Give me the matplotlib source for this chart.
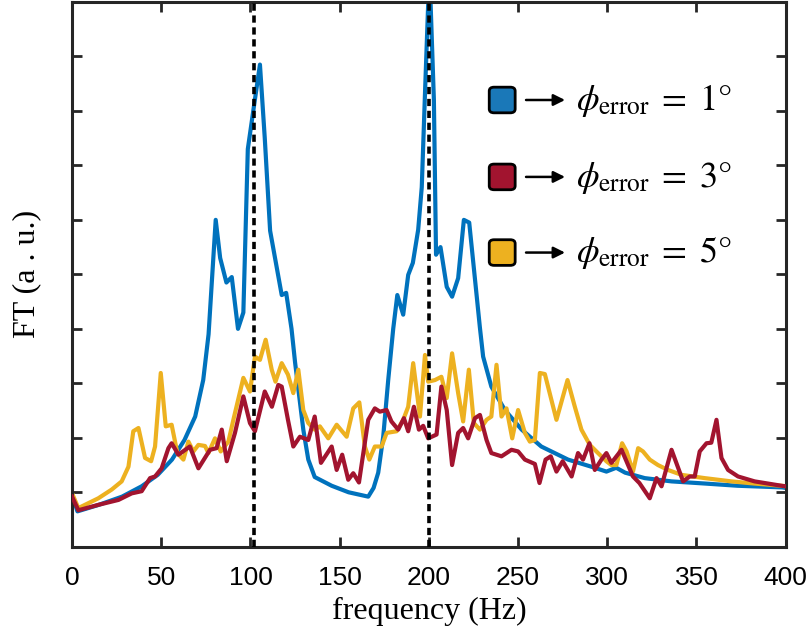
import matplotlib
matplotlib.use("Agg")
import matplotlib.pyplot as plt
from matplotlib.patches import FancyBboxPatch

plt.rcParams['mathtext.fontset'] = 'stix'

# phi_error = 1 deg (blue)
f_blue = [0, 3, 15, 28, 39, 48, 56, 63, 69, 73.5, 76.5, 80.5, 83, 86.5, 89.5, 93, 96,
          98.5, 102, 105.3, 108, 111, 117.5, 120, 123, 125, 129.6, 132.4, 136, 145.5,
          155, 166, 169, 171.6, 174.4, 177.2, 180, 182.3, 185.6, 188.4, 191, 194, 196,
          198, 200.3, 202.8, 204, 206.5, 210, 213, 216.4, 219.6, 222.6, 228.6, 230.4,
          235, 242.6, 252, 263, 278, 291, 299.5, 305, 310, 321, 336, 355, 373, 398, 400]
y_blue = [0.95, 0.65, 0.77, 0.92, 1.11, 1.32, 1.6, 1.96, 2.39, 3.06, 3.9, 6.0, 5.3, 4.85,
          4.95, 4.0, 4.3, 7.3, 8.1, 8.85, 7.5, 5.8, 4.62, 4.66, 4.0, 3.38, 2.15, 1.6, 1.28,
          1.12, 1.0, 0.92, 1.08, 1.36, 2.02, 3.06, 4.0, 4.62, 4.26, 4.99, 5.21, 5.82, 6.6,
          8.5, 10.6, 8.2, 5.36, 5.5, 4.77, 4.59, 4.93, 6.0, 5.95, 4.02, 3.49, 2.94, 2.51,
          2.15, 1.84, 1.6, 1.47, 1.38, 1.45, 1.36, 1.26, 1.2, 1.16, 1.12, 1.09, 1.08]

# phi_error = 3 deg (red)
f_red = [0, 3.5, 14.8, 26, 33.4, 39, 43.7, 46.5, 50.2, 54, 55.8, 59.6, 66, 70.8, 77.3,
         81, 83.9, 86.7, 91.3, 96, 99.7, 102.5, 108, 112, 115.6, 117.5, 121, 124, 127.7,
         132.4, 136, 139.5, 145.5, 148.3, 151.4, 154.8, 157.6, 160.8, 166, 169.7, 172.5,
         176.3, 179, 182.8, 186, 188.4, 191.6, 194.4, 196.8, 199.6, 204.3, 207, 210, 213,
         216.4, 219.2, 222, 225.8, 228.6, 232.3, 235, 240.7, 246.3, 250, 253.8, 259.4,
         262, 265.4, 268.3, 271.5, 275, 280, 283.6, 286.4, 290, 293, 296.7, 299.5, 302.3,
         308, 314.4, 318, 323.8, 327.6, 330.4, 336, 342.5, 346.2, 349, 351.8, 355.6,
         358.3, 361.2, 364, 367.7, 373.3, 382.6, 397.6, 400]
y_red = [0.92, 0.67, 0.77, 0.86, 0.98, 1.02, 1.26, 1.29, 1.44, 1.81, 1.9, 1.69, 1.84,
         1.44, 1.78, 1.81, 2.15, 1.57, 2.09, 2.76, 2.27, 2.12, 2.85, 2.57, 2.97, 2.94,
         2.33, 1.84, 2.02, 1.96, 2.39, 1.54, 1.84, 1.41, 1.69, 1.23, 1.35, 1.18, 2.33,
         2.54, 2.48, 2.51, 2.3, 2.15, 2.36, 2.12, 2.57, 2.15, 2.22, 1.99, 2.06, 2.94,
         2.51, 1.5, 2.09, 2.18, 1.99, 2.36, 2.42, 1.96, 1.72, 1.66, 1.78, 1.75, 1.6,
         1.52, 1.17, 1.6, 1.66, 1.38, 1.57, 1.29, 1.72, 1.6, 1.9, 1.41, 1.6, 1.72, 1.54,
         1.78, 1.29, 1.17, 0.89, 1.26, 1.11, 1.78, 1.2, 1.29, 1.29, 1.75, 1.9, 1.91,
         2.33, 1.63, 1.41, 1.29, 1.2, 1.12, 1.11]

# phi_error = 5 deg (yellow)
f_yel = [0, 3.5, 14.7, 22.2, 27.8, 31.6, 34.3, 37.2, 40.9, 44.3, 46.5, 49.7, 52.5, 55.8,
         59, 62.4, 65.2, 68, 70.8, 74.5, 76.4, 80.1, 83.3, 87.6, 90.4, 96, 99.7, 102.5,
         105.3, 108.5, 111.9, 114, 117.5, 121, 124, 126.8, 129.6, 132.4, 136, 138.9,
         143.6, 148.3, 153.9, 157.6, 161, 164.1, 166.6, 169.7, 173.5, 176.3, 181.9, 185.6,
         188.4, 191.2, 195, 197.8, 199.6, 203.4, 207, 210, 213, 216.4, 219.2, 222.4,
         225.2, 228.6, 232.3, 235, 237.9, 240.7, 243.5, 246.7, 250, 253.8, 256.6, 259.4,
         262.2, 265, 271.5, 277.7, 281.8, 285.5, 290.2, 294.8, 299.5, 302.3, 305.1, 308.3,
         310.8, 314.4, 317.3, 320, 323.8, 328.4, 334, 341.6, 354.6, 369.6, 382.6, 397.6, 400]
y_yel = [0.98, 0.71, 0.89, 1.05, 1.2, 1.47, 2.12, 2.18, 1.63, 1.57, 1.84, 3.19, 2.21,
         2.24, 1.72, 1.6, 1.93, 1.75, 1.87, 1.85, 1.72, 1.99, 1.75, 1.93, 2.33, 3.1, 2.85,
         3.49, 3.43, 3.8, 3.25, 3.03, 3.37, 3.16, 2.82, 3.25, 2.51, 2.27, 2.15, 2.21, 1.99,
         2.24, 2.02, 2.54, 2.65, 1.84, 1.6, 1.84, 1.84, 2.09, 2.12, 2.33, 2.57, 3.37, 2.39,
         3.52, 3.03, 3.06, 3.12, 2.73, 3.55, 2.82, 2.3, 3.25, 2.27, 2.15, 2.33, 2.39, 3.34,
         2.39, 2.54, 1.99, 2.51, 2.09, 1.93, 1.96, 3.19, 3.17, 2.33, 3.06, 2.57, 2.15, 1.87,
         1.72, 1.57, 1.5, 1.5, 1.9, 1.75, 1.38, 1.81, 1.75, 1.6, 1.5, 1.41, 1.32, 1.26, 1.2,
         1.16, 1.12, 1.11]

labels = ['1', '3', '5']
colors = ['#0072BD', '#A2142F', '#EDB120']
box_colors = ['#1A78B8', '#A2142F', '#EDB120']
marker_freqs = [102, 200]
xticks = [0, 50, 100, 150, 200, 250, 300, 350, 400]

fig = plt.figure(figsize=(8.1, 6.41), dpi=100)
ax = fig.add_axes([0.089, 0.147, 0.881, 0.85])

ax.plot(f_blue, y_blue, color=colors[0], lw=3.0, zorder=2)
ax.plot(f_yel, y_yel, color=colors[2], lw=3.0, zorder=2.5)
ax.plot(f_red, y_red, color=colors[1], lw=3.0, zorder=3)

for xv in marker_freqs:
    ax.axvline(xv, color='black', lw=2.6, ls=(0, (2.0, 1.3)), zorder=4)

ax.set_xlim(0, 400)
ax.set_ylim(0, 10)
ax.set_xticks(xticks)
ax.set_yticks(range(1, 10))
ax.set_yticklabels([])
ax.tick_params(direction='in', length=7, width=2, color='#262626', top=True, right=True,
               pad=14)
for lab in ax.get_xticklabels():
    lab.set_family('Liberation Sans')
    lab.set_fontsize(19)
for s in ax.spines.values():
    s.set_linewidth(2.2)
    s.set_color('#262626')

ax.set_xlabel('frequency (Hz)', family='Liberation Serif', fontsize=23, labelpad=5)
ax.set_ylabel('FT (a . u.)', family='Liberation Serif', fontsize=23, labelpad=8)

# legend built by hand: coloured square, arrow, text
rows_y = [0.846, 0.726, 0.608]
for yy, lab, bc in zip(rows_y, labels, box_colors):
    box = FancyBboxPatch((0.604, yy - 0.022), 0.032, 0.040,
                         boxstyle='round,pad=0,rounding_size=0.006',
                         transform=fig.transFigure, facecolor=bc, edgecolor='black',
                         lw=2.0, zorder=5)
    fig.patches.append(box)
    ax.annotate('', xy=(0.701, yy - 0.002), xytext=(0.646, yy - 0.002),
                xycoords='figure fraction', textcoords='figure fraction',
                arrowprops=dict(arrowstyle='-|>', color='black', lw=1.8,
                                mutation_scale=17))
    fig.text(0.711, yy - 0.003, r'$\phi_{\rm error}\;=\;%s\degree$' % lab,
             fontsize=26, va='center', ha='left')

fig.savefig('out.png', dpi=100)
